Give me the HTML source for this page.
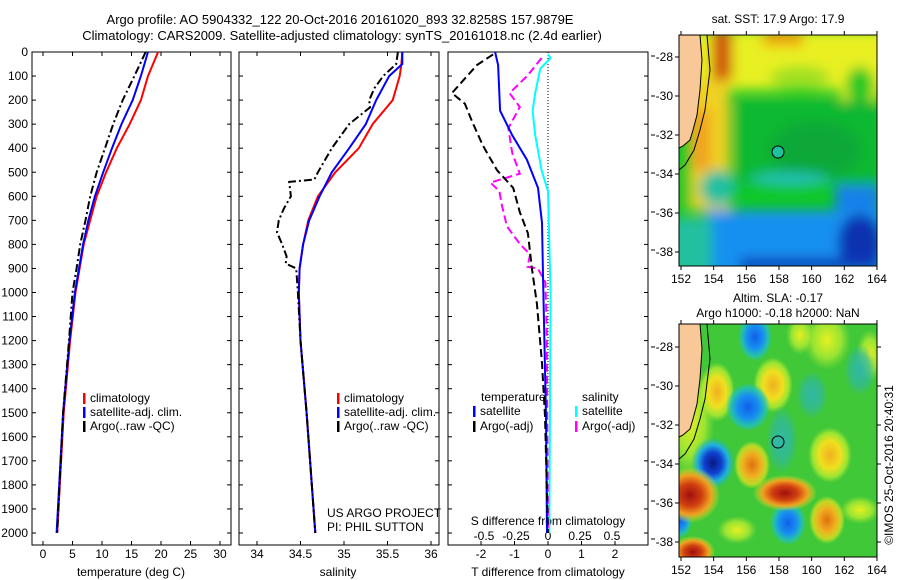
<!DOCTYPE html>
<html><head><meta charset="utf-8"><style>
html,body{margin:0;padding:0;background:#fff;}
svg{display:block;font-family:"Liberation Sans",sans-serif;}
text{font-size:12px;fill:#000;}
</style></head><body>
<svg id="fig" width="900" height="580" viewBox="0 0 900 580" xmlns="http://www.w3.org/2000/svg">
<defs>
<filter id="bl" filterUnits="userSpaceOnUse" x="660" y="20" width="240" height="270"><feGaussianBlur stdDeviation="6"/></filter>
<radialGradient id="gBlue"><stop offset="0" stop-color="#1060e8"/><stop offset="0.5" stop-color="#1890f0"/><stop offset="0.8" stop-color="#20c0c0" stop-opacity="0.8"/><stop offset="1" stop-color="#20c0c0" stop-opacity="0"/></radialGradient>
<radialGradient id="gNavy"><stop offset="0" stop-color="#081880"/><stop offset="0.4" stop-color="#1040d0"/><stop offset="0.7" stop-color="#20b0e0"/><stop offset="1" stop-color="#20c0a0" stop-opacity="0"/></radialGradient>
<radialGradient id="gTeal"><stop offset="0" stop-color="#30b8a8"/><stop offset="0.6" stop-color="#30b8a0" stop-opacity="0.7"/><stop offset="1" stop-color="#30b8a0" stop-opacity="0"/></radialGradient>
<radialGradient id="gYel"><stop offset="0" stop-color="#f0b020"/><stop offset="0.5" stop-color="#f0e020"/><stop offset="0.8" stop-color="#c0f030" stop-opacity="0.7"/><stop offset="1" stop-color="#a0e030" stop-opacity="0"/></radialGradient>
<radialGradient id="gLY"><stop offset="0" stop-color="#e8f020"/><stop offset="0.6" stop-color="#c0f030" stop-opacity="0.7"/><stop offset="1" stop-color="#a0e030" stop-opacity="0"/></radialGradient>
<radialGradient id="gRed"><stop offset="0" stop-color="#a01010"/><stop offset="0.4" stop-color="#d04010"/><stop offset="0.7" stop-color="#f0a020"/><stop offset="1" stop-color="#f0e020" stop-opacity="0"/></radialGradient>
<radialGradient id="gOr"><stop offset="0" stop-color="#e07010"/><stop offset="0.5" stop-color="#f0b020"/><stop offset="0.8" stop-color="#f0e020" stop-opacity="0.7"/><stop offset="1" stop-color="#e0f020" stop-opacity="0"/></radialGradient>
<clipPath id="c1"><rect x="679" y="35" width="198" height="231"/></clipPath>
<clipPath id="c2"><rect x="679" y="324" width="198" height="233"/></clipPath>
</defs>
<text x="340" y="24" text-anchor="middle" style="font-size:13px">Argo profile: AO 5904332_122 20-Oct-2016 20161020_893 32.8258S 157.9879E</text>
<text x="342" y="40" text-anchor="middle" style="font-size:13px">Climatology: CARS2009. Satellite-adjusted climatology: synTS_20161018.nc (2.4d earlier)</text>

<!-- SST map -->
<g clip-path="url(#c1)">
<rect x="679" y="35" width="198" height="231" fill="#10c828"/>
<g filter="url(#bl)">
<rect x="690" y="30" width="200" height="60" fill="#e8f020"/>
<rect x="840" y="30" width="40" height="70" fill="#e8f020"/>
<rect x="763" y="30" width="40" height="16" fill="#f0a010"/>
<rect x="712" y="30" width="20" height="50" fill="#d05010"/>
<rect x="688" y="80" width="42" height="130" fill="#f0d020"/>
<rect x="692" y="110" width="18" height="60" fill="#f0a020"/>
<ellipse cx="800" cy="78" rx="30" ry="12" fill="#a0e020"/>
<ellipse cx="860" cy="85" rx="14" ry="18" fill="#20c828"/>
<rect x="735" y="100" width="145" height="85" fill="#10b830"/>
<ellipse cx="815" cy="150" rx="45" ry="28" fill="#10a838"/>
<ellipse cx="718" cy="188" rx="18" ry="18" fill="#20c0a0"/>
<ellipse cx="790" cy="180" rx="40" ry="8" fill="#20c0b0"/>
<rect x="705" y="210" width="180" height="65" fill="#1890f0"/>
<rect x="835" y="185" width="45" height="25" fill="#1880e8"/>
<ellipse cx="860" cy="242" rx="22" ry="28" fill="#0830b0"/>
<rect x="740" y="258" width="140" height="12" fill="#0838b8"/>
<rect x="672" y="218" width="40" height="55" fill="#20c0a0"/>
<rect x="672" y="175" width="20" height="30" fill="#20c828"/>
</g>
<polygon points="679,35 700,35 702,60 700,90 697,115 693,130 690,140 683,146 679,148" fill="#f8c898"/>
<polyline points="707,35 710,70 705,110 700,130 694,150 685,165 679,170" fill="none" stroke="#000" stroke-width="1"/>
<polyline points="700,35 702,60 700,90 697,115 693,130 690,140 683,146 679,148" fill="none" stroke="#000" stroke-width="1"/>
<circle cx="778" cy="152" r="6" fill="#20c0a0" stroke="#000" stroke-width="1"/>
</g>
<rect x="679" y="35" width="198" height="231" fill="none" stroke="#000"/>
<text x="778" y="23" text-anchor="middle">sat. SST: 17.9 Argo: 17.9</text>

<!-- SLA map -->
<g clip-path="url(#c2)">
<rect x="679" y="324" width="198" height="233" fill="#40c838"/>
<ellipse cx="690" cy="420" rx="25" ry="60" fill="url(#gLY)"/>
<ellipse cx="717" cy="392" rx="18" ry="30" fill="url(#gYel)"/>
<ellipse cx="773" cy="385" rx="20" ry="28" fill="url(#gYel)"/>
<ellipse cx="827" cy="340" rx="24" ry="30" fill="url(#gLY)"/>
<ellipse cx="830" cy="455" rx="22" ry="28" fill="url(#gYel)"/>
<ellipse cx="870" cy="355" rx="14" ry="26" fill="url(#gLY)"/>
<ellipse cx="800" cy="335" rx="14" ry="20" fill="url(#gLY)"/>
<ellipse cx="737" cy="530" rx="20" ry="14" fill="url(#gLY)"/>
<ellipse cx="860" cy="510" rx="20" ry="14" fill="url(#gLY)"/>
<ellipse cx="782" cy="440" rx="16" ry="34" fill="url(#gTeal)"/>
<ellipse cx="812" cy="395" rx="16" ry="24" fill="url(#gTeal)"/>
<ellipse cx="860" cy="370" rx="16" ry="26" fill="url(#gTeal)"/>
<ellipse cx="755" cy="337" rx="17" ry="24" fill="url(#gBlue)"/>
<ellipse cx="748" cy="407" rx="22" ry="24" fill="url(#gBlue)"/>
<ellipse cx="713" cy="463" rx="22" ry="26" fill="url(#gNavy)"/>
<ellipse cx="788" cy="523" rx="18" ry="22" fill="url(#gBlue)"/>
<ellipse cx="680" cy="520" rx="12" ry="18" fill="url(#gBlue)"/>
<ellipse cx="690" cy="495" rx="30" ry="28" fill="url(#gRed)"/>
<ellipse cx="752" cy="465" rx="18" ry="24" fill="url(#gOr)"/>
<ellipse cx="785" cy="493" rx="32" ry="18" fill="url(#gRed)"/>
<ellipse cx="827" cy="520" rx="18" ry="24" fill="url(#gOr)"/>
<ellipse cx="693" cy="552" rx="22" ry="16" fill="url(#gRed)"/>
<polygon points="679,324 700,324 702,349 700,379 697,404 693,419 690,429 683,435 679,437" fill="#f8c898"/>
<polyline points="707,324 710,359 705,399 700,419 694,439 685,454 679,459" fill="none" stroke="#000"/>
<polyline points="700,324 702,349 700,379 697,404 693,419 690,429 683,435 679,437" fill="none" stroke="#000"/>
<circle cx="778" cy="442" r="6" fill="#30b8a0" stroke="#000"/>
</g>
<rect x="679" y="324" width="198" height="233" fill="none" stroke="#000"/>
<text x="778" y="302" text-anchor="middle">Altim. SLA: -0.17</text>
<text x="778" y="317" text-anchor="middle">Argo h1000: -0.18 h2000: NaN</text>
<text transform="translate(893,465) rotate(-90)" text-anchor="middle">©IMOS 25-Oct-2016 20:40:31</text>

<g id="plots"></g>
</svg>
<script>
// ---------- data ----------
var tempDepth = [0,100,200,300,400,500,600,700,800,900,1000,1200,1500,2000];
var tempClim = [19.5,17.8,16.6,14.7,12.5,10.7,9.1,8.0,6.9,6.2,5.5,4.6,3.5,2.4];
var tempSat  = [17.8,16.6,15.2,13.3,11.7,10.2,8.8,7.7,6.8,6.1,5.4,4.5,3.4,2.3];
var tempArgo = [17.4,15.5,13.5,11.9,10.5,9.1,8.0,7.2,6.3,5.7,5.0,4.4,3.4,2.4];

var salDepth = [0,50,100,200,300,400,500,600,700,800,900,1000,1200,1500,2000];
var salClim = [35.67,35.66,35.64,35.56,35.33,35.17,34.9,34.7,34.59,34.53,34.49,34.48,34.5,34.57,34.67];
var salSat  = [35.67,35.67,35.52,35.37,35.25,35.06,34.86,34.72,34.6,34.53,34.49,34.48,34.5,34.57,34.67];
var salArgoDepth = [0,50,100,150,200,230,300,400,500,530,540,600,650,700,750,800,850,880,900,1000,1200,1500,2000];
var salArgo = [35.62,35.6,35.45,35.35,35.29,35.3,35.06,34.86,34.7,34.66,34.37,34.39,34.31,34.25,34.23,34.29,34.34,34.33,34.45,34.47,34.5,34.57,34.67];

var dTSatDepth = [0,54,244,346,448,565,710,929,1513,2000];
var dTSat = [-1.58,-1.49,-1.43,-1.07,-0.63,-0.3,-0.18,-0.15,-0.06,-0.03];
var dTArgoDepth = [10,54,171,215,288,390,492,565,667,754,900,1046,1294,1513,2000];
var dTArgo = [-1.64,-2.12,-2.87,-2.48,-2.27,-1.94,-1.52,-1.04,-0.84,-0.6,-0.48,-0.33,-0.18,-0.09,0];
var dSSatDepth = [10,25,69,171,244,346,492,579,1000,2000];
var dSSat = [0,0.02,-0.06,-0.1,-0.12,-0.1,-0.05,0,0.02,0.01];
var dSArgoDepth = [25,98,171,229,317,419,506,543,579,638,725,798,842,893,900,958,1148,2000];
var dSArgo = [-0.05,-0.16,-0.3,-0.22,-0.31,-0.28,-0.22,-0.45,-0.38,-0.36,-0.32,-0.22,-0.14,-0.16,-0.08,-0.02,-0.01,0];

var depthTicks = [0,100,200,300,400,500,600,700,800,900,1000,1100,1200,1300,1400,1500,1600,1700,1800,1900,2000];
var tempTicks = [0,5,10,15,20,25,30];
var salTicks = [34,34.5,35,35.5,36];
var salTickLabels = ["34","34.5","35","35.5","36"];
var dTTicks = [-2,-1,0,1,2];
var dSTicks = [-0.5,-0.25,0,0.25,0.5];
var dSTickLabels = ["-0.5","-0.25","0","0.25","0.5"];
var lonTicks = [152,154,156,158,160,162,164];
var latTicks = [-28,-30,-32,-34,-36,-38];

// ---------- axes ----------
var TOP = 52, BOT = 545;
function yD(p){ return TOP + 0.2405*p; }
function xT(t){ return 43 + 5.9*t; }
function xS(s){ return 257 + 87*(s-34); }
function xDT(d){ return 548 + 33.5*d; }
function xDS(d){ return 548 + 128*d; }
function xLon(l){ return 681 + 16.33*(l-152); }
function yLat1(l){ return 57 + 19.5*(-28 - l); }
function yLat2(l){ return 347 + 19.5*(-28 - l); }

var NS = "http://www.w3.org/2000/svg";
var root = document.getElementById('plots');
function mk(tag, attrs, parent){
  var e = document.createElementNS(NS, tag);
  for (var k in attrs) e.setAttribute(k, attrs[k]);
  (parent || root).appendChild(e);
  return e;
}
function txt(x, y, s, anchor, parent){
  var t = mk('text', {x:x, y:y, 'text-anchor':anchor||'middle'}, parent);
  t.textContent = s;
  return t;
}
function line(xs, ys, xf, color, dash, name){
  var pts = xs.map(function(v,i){ return xf(v).toFixed(1)+','+yD(ys[i]).toFixed(1); }).join(' ');
  var pl = mk('polyline', {points:pts, fill:'none', stroke:color, 'stroke-width':2});
  if (dash) pl.setAttribute('stroke-dasharray', dash);
  
  
}
function frame(x0, x1, name){
  var r = mk('rect', {x:x0, y:TOP, width:x1-x0, height:BOT-TOP, fill:'none', stroke:'#000'});
  
  
  depthTicks.forEach(function(p){
    mk('line', {x1:x0, x2:x0+4, y1:yD(p), y2:yD(p), stroke:'#000'});
    mk('line', {x1:x1, x2:x1-4, y1:yD(p), y2:yD(p), stroke:'#000'});
  });
}

// Panel 1 temperature
frame(32, 231, 'temperature-panel');
depthTicks.forEach(function(p){
  var t = txt(28, yD(p)+4, String(p), 'end');
  
  
});
tempTicks.forEach(function(v){
  mk('line', {x1:xT(v), x2:xT(v), y1:BOT, y2:BOT-4, stroke:'#000'});
  mk('line', {x1:xT(v), x2:xT(v), y1:TOP, y2:TOP+4, stroke:'#000'});
  var t = txt(xT(v), 558, String(v));
  
  
});
var tl = txt(131, 576, 'temperature (deg C)');


line(tempClim, tempDepth, xT, '#ff0000', null, 'temp-climatology-line');
line(tempSat, tempDepth, xT, '#0000ff', null, 'temp-satellite-line');
line(tempArgo, tempDepth, xT, '#000000', '8,3,2,3', 'temp-argo-line');

// Panel 2 salinity
frame(239, 439, 'salinity-panel');
salTicks.forEach(function(v,i){
  mk('line', {x1:xS(v), x2:xS(v), y1:BOT, y2:BOT-4, stroke:'#000'});
  mk('line', {x1:xS(v), x2:xS(v), y1:TOP, y2:TOP+4, stroke:'#000'});
  var t = txt(xS(v), 558, salTickLabels[i]);
  
  
});
var sl = txt(338, 576, 'salinity');


line(salClim, salDepth, xS, '#ff0000', null, 'sal-climatology-line');
line(salSat, salDepth, xS, '#0000ff', null, 'sal-satellite-line');
line(salArgo, salArgoDepth, xS, '#000000', '8,3,2,3', 'sal-argo-line');

// Panel 3 differences
frame(448, 648, 'difference-panel');
mk('line', {x1:548, x2:548, y1:TOP, y2:395, stroke:'#000', 'stroke-dasharray':'1,2'});
dTTicks.forEach(function(v){
  mk('line', {x1:xDT(v), x2:xDT(v), y1:BOT, y2:BOT-4, stroke:'#000'});
  var t = txt(xDT(v), 558, String(v));
  
  
});
dSTicks.forEach(function(v,i){
  var t = txt(xDS(v), 540, dSTickLabels[i]);
  
  
});
var dt = txt(548, 576, 'T difference from climatology');


var ds = txt(548, 525, 'S difference from climatology');


line(dSSat, dSSatDepth, xDS, '#00ffff', null, 's-diff-satellite-line');
line(dSArgo, dSArgoDepth, xDS, '#ff00ff', '8,4', 's-diff-argo-line');
line(dTSat, dTSatDepth, xDT, '#0000ff', null, 't-diff-satellite-line');
line(dTArgo, dTArgoDepth, xDT, '#000000', '8,4', 't-diff-argo-line');
[56,96,135,173,212,250,347,385,424,462,501,539].forEach(function(y){
  mk('line', {x1:651, x2:655, y1:y, y2:y, stroke:'#000'});
});

// Legends
function legend(x, y, color, label){
  var g = mk('g', {});
  
  
  mk('rect', {x:x, y:y-9, width:2.5, height:11, fill:color}, g);
  txt(x+7, y, label, 'start', g);
}
legend(83, 402, '#ff0000', 'climatology');
legend(83, 416, '#0000ff', 'satellite-adj. clim.');
legend(83, 430, '#000000', 'Argo(..raw -QC)');
legend(337, 402, '#ff0000', 'climatology');
legend(337, 416, '#0000ff', 'satellite-adj. clim.');
legend(337, 430, '#000000', 'Argo(..raw -QC)');
var lt = txt(481, 401, 'temperature', 'start');


var ls = txt(582, 401, 'salinity', 'start');


legend(473, 415, '#0000ff', 'satellite');
legend(473, 430, '#000000', 'Argo(-adj)');
legend(575, 415, '#00ffff', 'satellite');
legend(575, 430, '#ff00ff', 'Argo(-adj)');
var u1 = txt(327, 517, 'US ARGO PROJECT', 'start');


var u2 = txt(327, 531, 'PI: PHIL SUTTON', 'start');



// Map ticks
function mapAxes(yf, top, bot, labY, rightTicks){
  lonTicks.forEach(function(l){
    mk('line', {x1:xLon(l), x2:xLon(l), y1:top, y2:top-4, stroke:'#000'});
    mk('line', {x1:xLon(l), x2:xLon(l), y1:bot, y2:bot+4, stroke:'#000'});
    var t = txt(xLon(l), labY, String(l));
    
    
  });
  latTicks.forEach(function(l){
    mk('line', {x1:679, x2:675, y1:yf(l), y2:yf(l), stroke:'#000'});
    if (rightTicks) mk('line', {x1:877, x2:881, y1:yf(l), y2:yf(l), stroke:'#000'});
    var t = txt(673, yf(l)+4, String(l), 'end');
    
    
  });
}
mapAxes(yLat1, 35, 266, 283, false);
mapAxes(yLat2, 324, 557, 574, true);
</script>
</body></html>
